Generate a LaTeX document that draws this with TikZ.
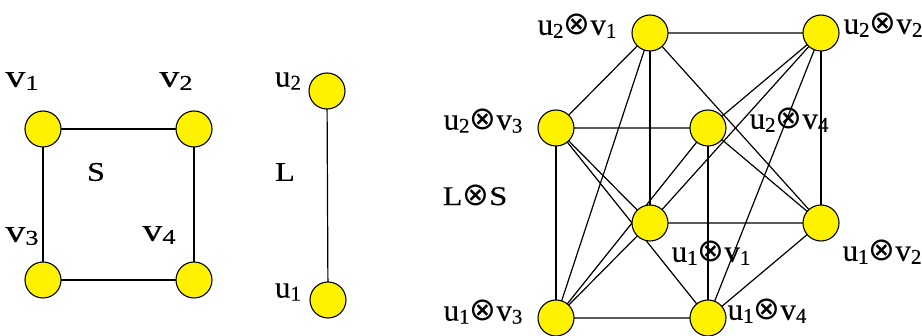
\documentclass[tikz,border=0pt]{standalone}
\usepackage{fontspec}
\usepackage{graphicx}
\setmainfont{Liberation Serif}[FakeBold=0.3]
\newfontfamily\dvs{DejaVu Sans}
\newcommand{\subfnt}{\fontsize{21}{24}\selectfont}
\newcommand{\ox}{{\dvs\fontsize{32}{36}\selectfont ⊗}}
% left vertex labels: letter, subscript
\newcommand{\vlab}[2]{\scalebox{1.25}[1]{\fontsize{32}{36}\selectfont #1\raisebox{-3pt}{\subfnt #2}}}
\newcommand{\ulab}[2]{{\fontsize{31}{36}\selectfont #1\raisebox{-3pt}{\subfnt #2}}}
\newcommand{\plab}[4]{{\fontsize{31}{36}\selectfont #1\raisebox{-3pt}{\subfnt #2}\ox #3\raisebox{-3pt}{\subfnt #4}}}
\newcommand{\biglab}[1]{\scalebox{1.2}[1]{\fontsize{27}{32}\selectfont #1}}
\tikzset{
  vert/.style={circle, draw=black, fill=yellow, line width=1.1pt, minimum size=36pt, inner sep=0pt},
  lbl/.style={inner sep=0pt, anchor=center},
  edge/.style={draw=black, line width=1.2pt}
}
\begin{document}
\begin{tikzpicture}[x=1pt,y=-1pt]
\useasboundingbox (0,0) rectangle (922,336);
% graph S
\coordinate (v1) at (43,129);
\coordinate (v2) at (194,129);
\coordinate (v3) at (43,280);
\coordinate (v4) at (194,280);
% graph L
\coordinate (u2) at (327,91);
\coordinate (u1) at (328,300);
% product L (x) S
\coordinate (A) at (650,33);
\coordinate (B) at (821,33);
\coordinate (C) at (556,128);
\coordinate (D) at (708,128);
\coordinate (E) at (650,223);
\coordinate (F) at (821,223);
\coordinate (G) at (556,318);
\coordinate (H) at (708,318);

\path[edge] (v1) -- (v2) (v2) -- (v4) (v4) -- (v3) (v3) -- (v1);
\path[edge] (u1) -- (u2);
% layers
\path[edge] (A) -- (B) (B) -- (D) (D) -- (C) (C) -- (A);
\path[edge] (E) -- (F) (F) -- (H) (H) -- (G) (G) -- (E);
% verticals
\path[edge] (A) -- (E) (B) -- (F) (C) -- (G) (D) -- (H);
% cross
\path[edge] (A) -- (F) (A) -- (G) (B) -- (E) (B) -- (H);
\path[edge] (C) -- (E) (C) -- (H) (D) -- (F) (D) -- (G);

% vertices on top of the edges
\foreach \n in {v1,v2,v3,v4,u1,u2,A,B,C,D,E,F,G,H}{
  \node[vert] (n\n) at (\n) {};
}

% labels
\node[lbl] (lv1) at (22,81) {\vlab{v}{1}};
\node[lbl] (lv2) at (176,81) {\vlab{v}{2}};
\node[lbl] (lv3) at (22,236) {\vlab{v}{3}};
\node[lbl] (lv4) at (159,235) {\vlab{v}{4}};
\node[lbl] (lS) at (96,172) {\biglab{S}};
\node[lbl] (lL) at (285,172) {\biglab{L}};
\node[lbl] (lu2) at (288,81) {\ulab{u}{2}};
\node[lbl] (lu1) at (288,292) {\ulab{u}{1}};

\node[lbl] (lA) at (577,26) {\plab{u}{2}{v}{1}};
\node[lbl] (lB) at (883,25) {\plab{u}{2}{v}{2}};
\node[lbl] (lC) at (483,121) {\plab{u}{2}{v}{3}};
\node[lbl] (lD) at (789,120) {\plab{u}{2}{v}{4}};
\node[lbl] (lE) at (711,253) {\plab{u}{1}{v}{1}};
\node[lbl] (lF) at (882,252) {\plab{u}{1}{v}{2}};
\node[lbl] (lG) at (483,312) {\plab{u}{1}{v}{3}};
\node[lbl] (lH) at (767,311) {\plab{u}{1}{v}{4}};
\node[lbl] (lLS) at (475,195) {{\fontsize{27}{32}\selectfont\scalebox{1.2}[1]{L}\ox\scalebox{1.2}[1]{S}}};
\end{tikzpicture}
\end{document}
